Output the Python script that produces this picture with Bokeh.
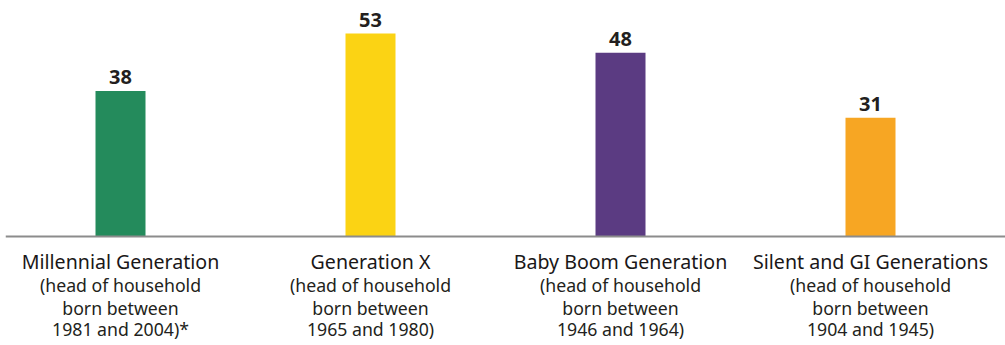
from bokeh.plotting import figure
from bokeh.models import ColumnDataSource, Range1d, Span
from bokeh.core.properties import value
from bokeh.embed import file_html
from bokeh.resources import INLINE

# Data
categories = ["Millennial Generation", "Generation X", "Baby Boom Generation", "Silent and GI Generations"]
values = [38, 53, 48, 31]
sub_line1 = ["(head of household"] * 4
sub_line2 = ["born between"] * 4
sub_line3 = ["1981 and 2004)*", "1965 and 1980)", "1946 and 1964)", "1904 and 1945)"]
colors = ["#248B5C", "#FBD314", "#5B3B82", "#F7A623"]
positions = [0, 1, 2, 3]

src = ColumnDataSource(dict(
    x=positions, v=values, cat=categories, c=colors,
    l1=sub_line1, l2=sub_line2, l3=sub_line3,
    vlab=[str(v) for v in values], zero=[0] * 4,
))

W, H = 1005, 345
p = figure(width=W, height=H, output_backend="svg", toolbar_location=None,
           x_axis_type=None, y_axis_type=None,
           x_range=Range1d(-0.46, 3.54), y_range=Range1d(-28.46, 61.62),
           min_border_left=5, min_border_right=0, min_border_top=0, min_border_bottom=0)
p.grid.visible = False
p.outline_line_color = None
p.background_fill_color = "white"
p.border_fill_color = "white"

p.vbar(x="x", top="v", bottom=0, width=0.2, fill_color="c", line_color=None, source=src)
p.add_layout(Span(location=0, dimension="width", line_color="#8c8c8c", line_width=2))

font = value("Noto Sans")
txt = "#231f20"
p.text(x="x", y="v", text="vlab", text_align="center", text_baseline="alphabetic",
       y_offset=-14, text_font=font, text_font_style="bold", text_font_size="20px",
       text_color=txt, source=src)
p.text(x="x", y="zero", text="cat", text_align="center", text_baseline="alphabetic",
       y_offset=25, text_font=font, text_font_size="19.6px", text_color="#1a1718", source=src)
for col, off in (("l1", 48), ("l2", 71), ("l3", 92)):
    p.text(x="x", y="zero", text=col, text_align="center", text_baseline="alphabetic",
           y_offset=off, text_font=font, text_font_size="17.7px", text_color=txt, source=src)

open("out.html", "w").write(file_html(p, INLINE))
